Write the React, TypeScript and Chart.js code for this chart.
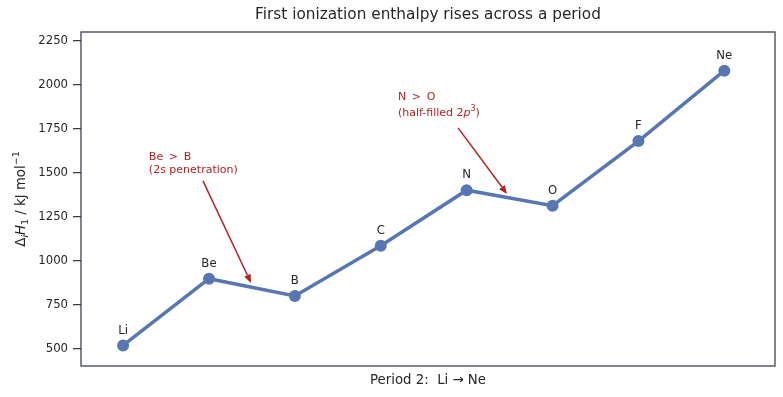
import React, { useEffect, useRef } from "react";
import { Chart, registerables } from "chart.js";

Chart.register(...registerables);

const elements = ["Li", "Be", "B", "C", "N", "O", "F", "Ne"];
const ionization = [520, 899, 801, 1086, 1402, 1314, 1681, 2081];
const yTicks = [500, 750, 1000, 1250, 1500, 1750, 2000, 2250];
const yRange = [403, 2301];
const xRange = [-0.49, 7.59];

// annotation: text anchor (x,y data), arrow start, arrow end
const annBeB = { text: [0.3, 1500], from: [0.93, 1455], to: [1.49, 875] };
const annNO = { text: [3.2, 1822], from: [3.9, 1756], to: [4.47, 1381] };

const FONT = "'DejaVu Sans', sans-serif";
const TEXT = "#262626";
const FRAME = "#363c48";
const LINE = "#5877b2";
const RED = "#b22222";

type Part = { t: string; size: number; italic?: boolean; dy?: number };

function drawRich(ctx: CanvasRenderingContext2D, parts: Part[], x: number, y: number, align: "left" | "center") {
  let total = 0;
  const widths = parts.map((p) => {
    ctx.font = `${p.italic ? "italic " : ""}${p.size}px ${FONT}`;
    const w = ctx.measureText(p.t).width;
    total += w;
    return w;
  });
  let cx = align === "center" ? x - total / 2 : x;
  ctx.textAlign = "left";
  ctx.textBaseline = "alphabetic";
  parts.forEach((p, i) => {
    ctx.font = `${p.italic ? "italic " : ""}${p.size}px ${FONT}`;
    ctx.fillText(p.t, cx, y + (p.dy || 0));
    cx += widths[i];
  });
}

function drawArrow(ctx: CanvasRenderingContext2D, x1: number, y1: number, x2: number, y2: number) {
  const ang = Math.atan2(y2 - y1, x2 - x1);
  const hl = 8.5, hw = 3.5;
  const bx = x2 - hl * Math.cos(ang);
  const by = y2 - hl * Math.sin(ang);
  ctx.strokeStyle = RED;
  ctx.fillStyle = RED;
  ctx.lineWidth = 1.5;
  ctx.beginPath();
  ctx.moveTo(x1, y1);
  ctx.lineTo(bx, by);
  ctx.stroke();
  ctx.beginPath();
  ctx.moveTo(x2, y2);
  ctx.lineTo(bx + hw * Math.sin(ang), by - hw * Math.cos(ang));
  ctx.lineTo(bx - hw * Math.sin(ang), by + hw * Math.cos(ang));
  ctx.closePath();
  ctx.fill();
}

const decorPlugin = {
  id: "decor",
  afterDraw(chart: any) {
    const ctx: CanvasRenderingContext2D = chart.ctx;
    const { left, right, top, bottom } = chart.chartArea;
    const xs = chart.scales.x;
    const ys = chart.scales.y;
    ctx.save();
    // frame
    ctx.strokeStyle = FRAME;
    ctx.lineWidth = 1.25;
    ctx.strokeRect(left, top, right - left, bottom - top);

    // title
    ctx.fillStyle = TEXT;
    ctx.font = `15.3px ${FONT}`;
    ctx.textAlign = "center";
    ctx.textBaseline = "middle";
    ctx.fillText("First ionization enthalpy rises across a period", (left + right) / 2, 15);

    // x title
    ctx.font = `13.3px ${FONT}`;
    ctx.fillText("Period 2:  Li \u2192 Ne", (left + right) / 2, 381);

    // y title (rotated)
    ctx.save();
    ctx.translate(25, (top + bottom) / 2);
    ctx.rotate(-Math.PI / 2);
    drawRich(
      ctx,
      [
        { t: "\u0394", size: 13.3 },
        { t: "i", size: 9.5, italic: true, dy: 3 },
        { t: "H", size: 13.3, italic: true },
        { t: "1", size: 9.5, dy: 3 },
        { t: " / kJ mol", size: 13.3 },
        { t: "\u22121", size: 9.5, dy: -6 },
      ],
      0,
      0,
      "center"
    );
    ctx.restore();

    // point labels
    ctx.fillStyle = TEXT;
    ctx.font = `11.7px ${FONT}`;
    ctx.textAlign = "center";
    ctx.textBaseline = "bottom";
    elements.forEach((el, i) => {
      ctx.fillText(el, xs.getPixelForValue(i), ys.getPixelForValue(ionization[i]) - 9);
    });

    // annotations
    ctx.fillStyle = RED;
    const bx = xs.getPixelForValue(annBeB.text[0]);
    const by = ys.getPixelForValue(annBeB.text[1]);
    drawRich(ctx, [{ t: "Be \u2009>\u2009 B", size: 11 }], bx, by - 13, "left");
    drawRich(ctx, [{ t: "(2s penetration)", size: 11 }], bx, by, "left");
    drawArrow(
      ctx,
      xs.getPixelForValue(annBeB.from[0]),
      ys.getPixelForValue(annBeB.from[1]),
      xs.getPixelForValue(annBeB.to[0]),
      ys.getPixelForValue(annBeB.to[1])
    );
    ctx.fillStyle = RED;
    const nx = xs.getPixelForValue(annNO.text[0]);
    const ny = ys.getPixelForValue(annNO.text[1]);
    drawRich(ctx, [{ t: "N \u2009>\u2009 O", size: 11 }], nx, ny - 16, "left");
    drawRich(
      ctx,
      [
        { t: "(half-filled 2", size: 11 },
        { t: "p", size: 11, italic: true },
        { t: "3", size: 8, dy: -5 },
        { t: ")", size: 11 },
      ],
      nx,
      ny,
      "left"
    );
    drawArrow(
      ctx,
      xs.getPixelForValue(annNO.from[0]),
      ys.getPixelForValue(annNO.from[1]),
      xs.getPixelForValue(annNO.to[0]),
      ys.getPixelForValue(annNO.to[1])
    );
    ctx.restore();
  },
};

export default function App() {
  const ref = useRef<HTMLCanvasElement>(null);
  useEffect(() => {
    document.body.style.margin = "0";
    const chart = new Chart(ref.current!, {
      type: "line",
      data: {
        datasets: [
          {
            data: ionization.map((v, i) => ({ x: i, y: v })),
            borderColor: LINE,
            backgroundColor: LINE,
            borderWidth: 3.5,
            pointRadius: 6,
            pointBorderWidth: 0,
            pointBackgroundColor: LINE,
            tension: 0,
          },
        ],
      },
      options: {
        animation: false,
        responsive: false,
        maintainAspectRatio: false,
        layout: { padding: { top: 32, right: 8, bottom: 31, left: 0 } },
        plugins: { legend: { display: false }, tooltip: { enabled: false } },
        scales: {
          x: { type: "linear", min: xRange[0], max: xRange[1], display: false },
          y: {
            type: "linear",
            min: yRange[0],
            max: yRange[1],
            afterBuildTicks: (s: any) => {
              s.ticks = yTicks.map((v) => ({ value: v }));
            },
            afterFit: (s: any) => {
              s.width = 81;
            },
            border: { display: false },
            grid: {
              display: true,
              drawOnChartArea: false,
              drawTicks: true,
              tickLength: 8,
              color: FRAME,
              lineWidth: 1.25,
            },
            ticks: {
              color: TEXT,
              font: { family: FONT, size: 11.7 },
              padding: 5,
              callback: (v: any) => String(v),
            },
          },
        },
      },
      plugins: [decorPlugin],
    });
    return () => chart.destroy();
  }, []);
  return (
    <div style={{ width: 783, height: 397 }}>
      <canvas ref={ref} width={783} height={397} style={{ width: 783, height: 397 }} />
    </div>
  );
}
